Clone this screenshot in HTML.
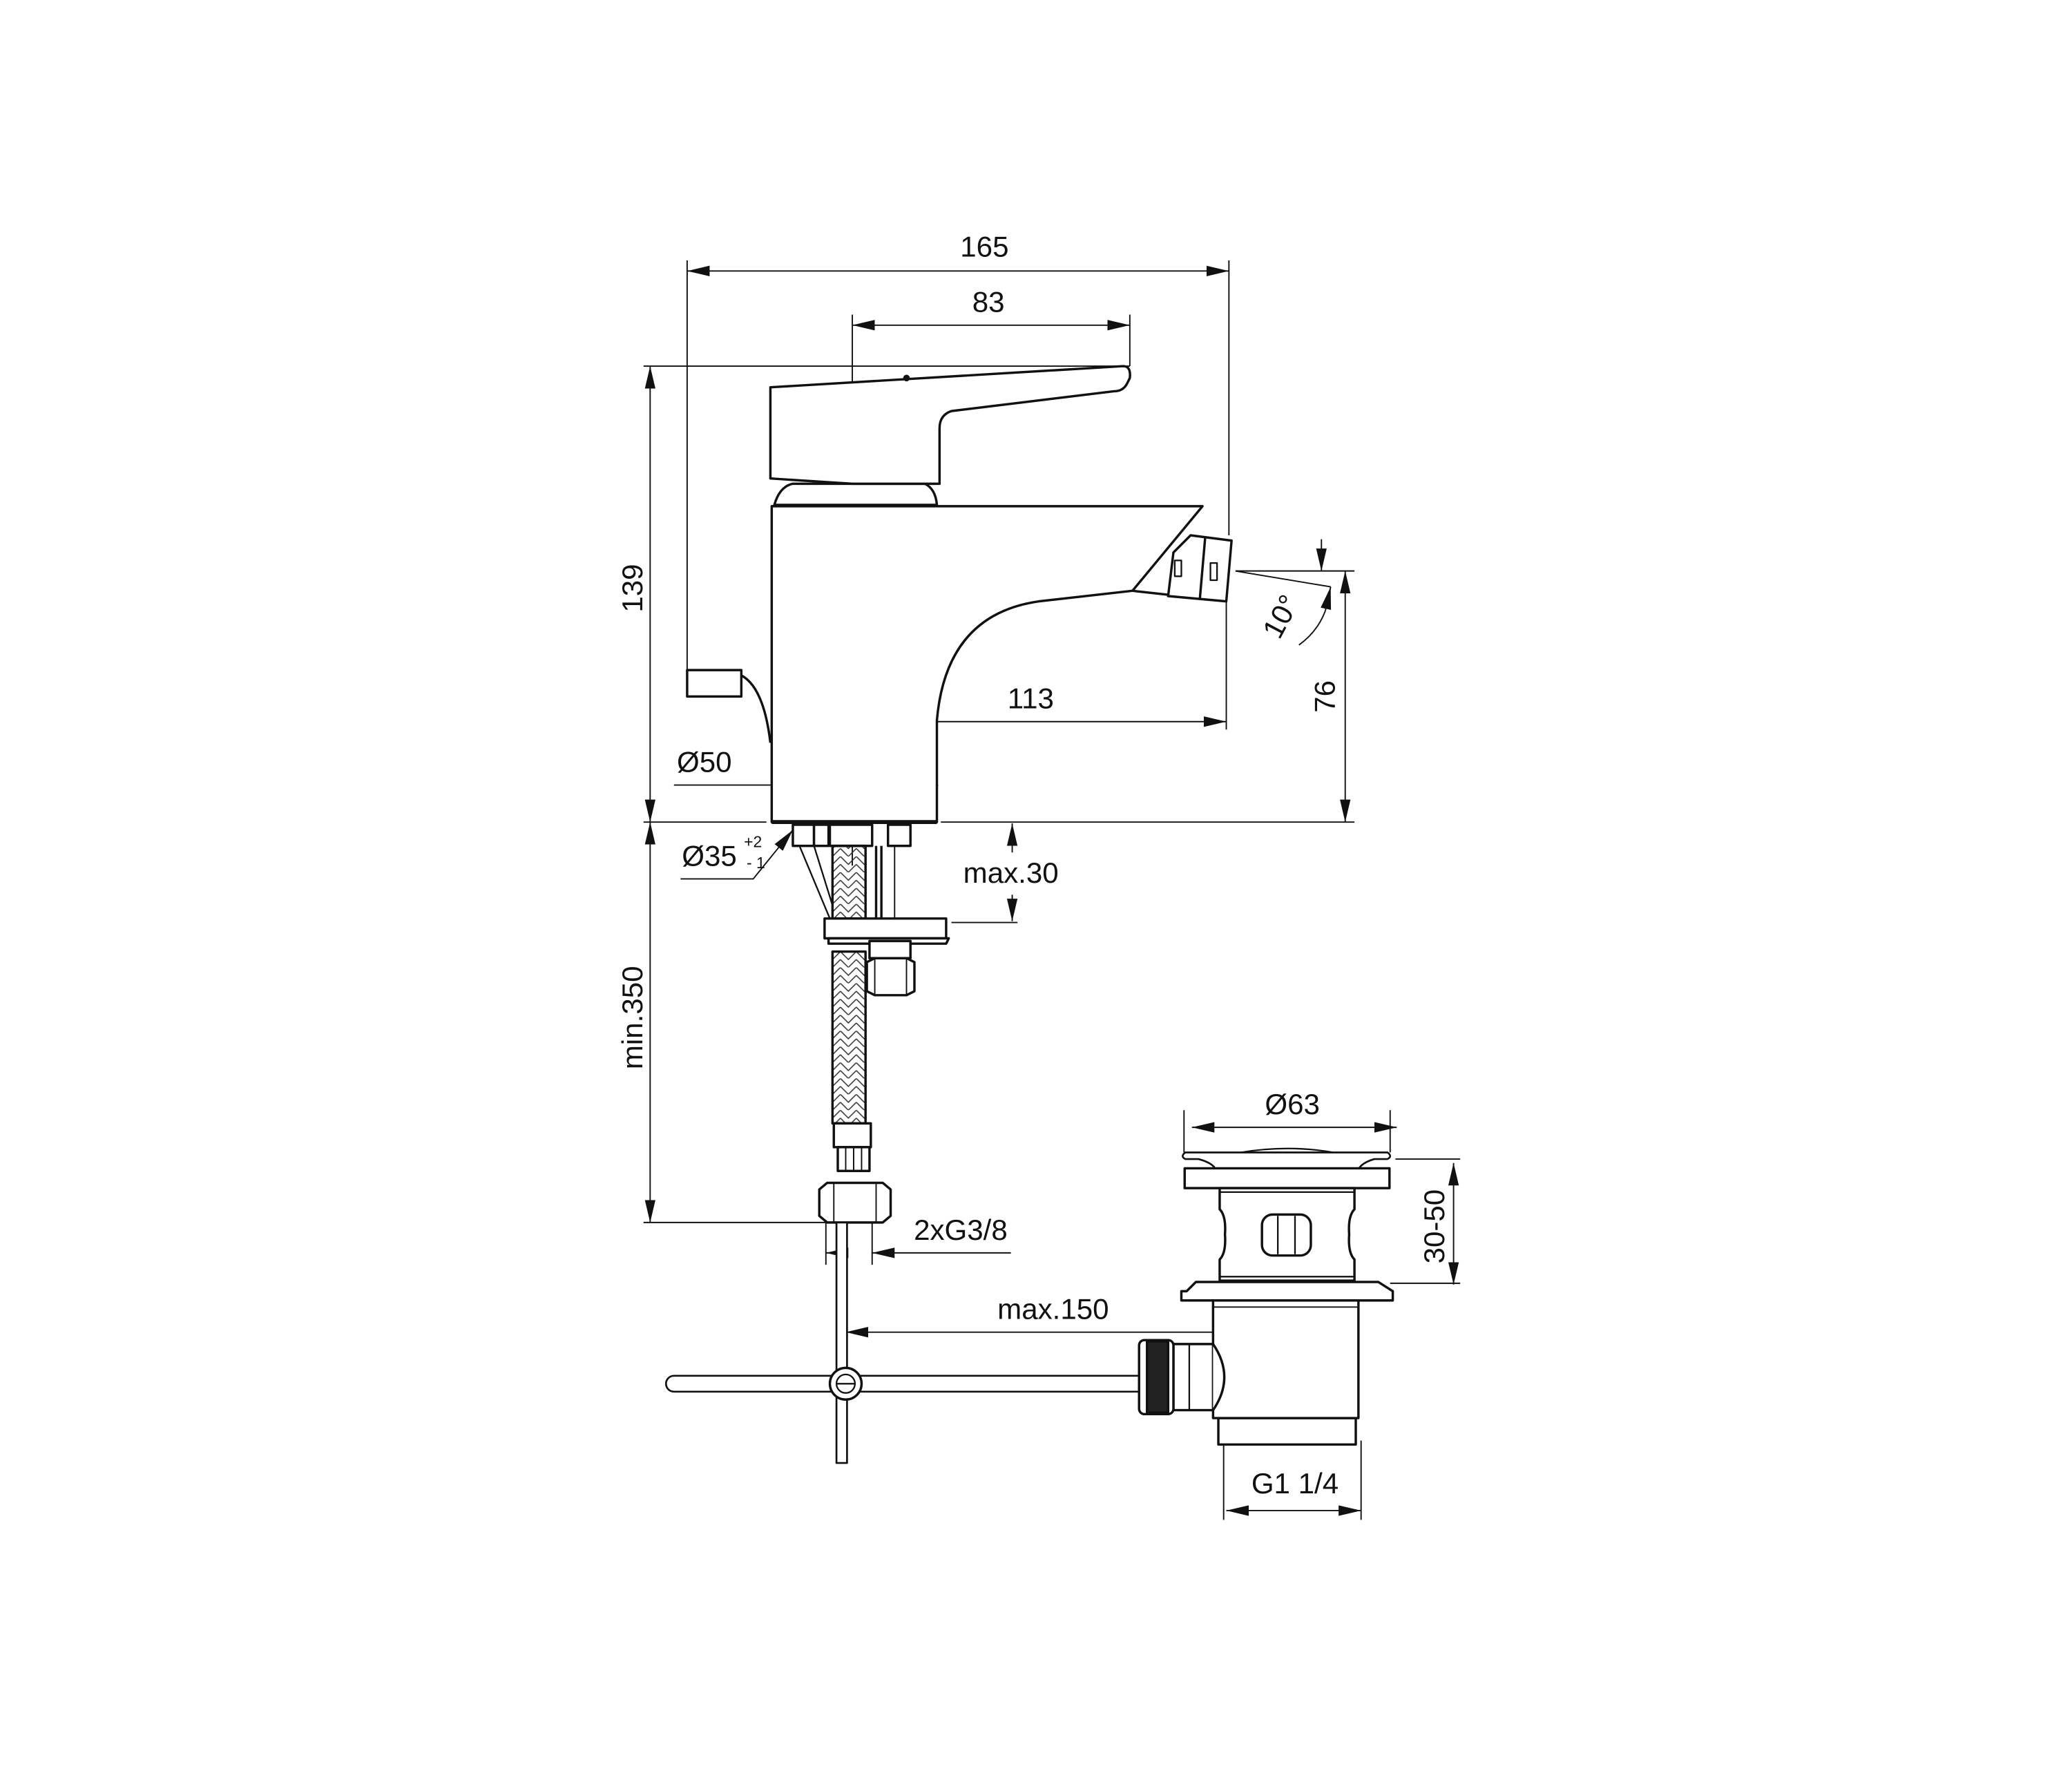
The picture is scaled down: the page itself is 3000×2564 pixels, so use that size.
<!DOCTYPE html>
<html><head><meta charset="utf-8"><style>
html,body{margin:0;padding:0;background:#fff}
svg{display:block}
text{font-family:"Liberation Sans",sans-serif;font-size:22px;fill:#111}
</style></head><body>
<svg width="3000" height="2564" viewBox="0 0 1568 1340" xmlns="http://www.w3.org/2000/svg">
<defs>
<marker id="a" markerWidth="18" markerHeight="9" refX="17" refY="4.5" orient="auto-start-reverse" markerUnits="userSpaceOnUse">
<path d="M0,0.5 L17,4.5 L0,8.5 Z" fill="#111"/></marker>
<pattern id="braid" width="12" height="12" patternUnits="userSpaceOnUse">
<path d="M0,0 L6,6 L12,0 M0,6 L6,12 L12,6" stroke="#333" stroke-width="0.8" fill="none"/></pattern>
</defs>
<g fill="none" stroke="#111" stroke-width="1">
<line x1="520" y1="205" x2="930" y2="205" marker-start="url(#a)" marker-end="url(#a)"/>
<line x1="520" y1="197" x2="520" y2="512"/>
<line x1="930" y1="197" x2="930" y2="405"/>
<line x1="645" y1="246" x2="855" y2="246" marker-start="url(#a)" marker-end="url(#a)"/>
<line x1="645" y1="238" x2="645" y2="290"/>
<line x1="855" y1="238" x2="855" y2="277"/>
<line x1="487" y1="277" x2="855" y2="277"/>
<line x1="492" y1="277" x2="492" y2="622" marker-start="url(#a)" marker-end="url(#a)"/>
<line x1="492" y1="622" x2="492" y2="925" marker-start="url(#a)" marker-end="url(#a)"/>
<line x1="487" y1="622" x2="580" y2="622"/>
<line x1="712" y1="622" x2="1025" y2="622"/>
<line x1="487" y1="925" x2="625" y2="925"/>
<line x1="1018" y1="432" x2="1018" y2="622" marker-start="url(#a)" marker-end="url(#a)"/>
<line x1="935" y1="432" x2="1025" y2="432"/>
<line x1="935" y1="432" x2="1007" y2="444"/>
<line x1="1000" y1="408" x2="1000" y2="432" marker-end="url(#a)"/>
<path d="M1003,462 Q997,478 983,488"/>
<line x1="1007" y1="444" x2="1003" y2="462" marker-start="url(#a)"/>
<line x1="645" y1="546" x2="928" y2="546" marker-start="url(#a)" marker-end="url(#a)"/>
<line x1="928" y1="430" x2="928" y2="552"/>
<line x1="645" y1="540" x2="645" y2="655"/>
<line x1="510" y1="594" x2="583" y2="594"/>
<line x1="583" y1="594" x2="710" y2="594" marker-start="url(#a)" marker-end="url(#a)"/>
<polyline points="515,665 570,665 600,628" marker-end="url(#a)"/>
<line x1="766" y1="645" x2="766" y2="623" marker-end="url(#a)"/>
<line x1="766" y1="677" x2="766" y2="697" marker-end="url(#a)"/>
<line x1="720" y1="698" x2="770" y2="698"/>
<line x1="625" y1="925" x2="625" y2="957"/>
<line x1="660" y1="925" x2="660" y2="957"/>
<line x1="625" y1="948" x2="637" y2="948" marker-start="url(#a)"/>
<line x1="660" y1="948" x2="765" y2="948" marker-start="url(#a)"/>
<line x1="902" y1="853" x2="1057" y2="853" marker-start="url(#a)" marker-end="url(#a)"/>
<line x1="896" y1="840" x2="896" y2="872"/>
<line x1="1052" y1="840" x2="1052" y2="872"/>
<line x1="1100" y1="880" x2="1100" y2="972" marker-start="url(#a)" marker-end="url(#a)"/>
<line x1="1056" y1="877" x2="1105" y2="877"/>
<line x1="1052" y1="971" x2="1105" y2="971"/>
<line x1="640" y1="1008" x2="980" y2="1008" marker-start="url(#a)" marker-end="url(#a)"/>
<line x1="980" y1="995" x2="980" y2="1018"/>
<line x1="928" y1="1143" x2="1030" y2="1143" marker-start="url(#a)" marker-end="url(#a)"/>
<line x1="926" y1="1090" x2="926" y2="1150"/>
<line x1="1030" y1="1090" x2="1030" y2="1150"/>
</g>

<g fill="#fff" stroke="#111" stroke-width="1.8" stroke-linejoin="round">
<path d="M586,382 Q590,368 600,366 L700,366 Q708,370 709,382 Z"/>
<path d="M583,293 L850,277 Q856,277 855,286 L853,290 Q850,296 843,296 L720,311 Q711,314 711,324 L711,366 L645,366 L583,362 Z"/>
<circle cx="686" cy="286" r="1.6" fill="#111"/>
<path d="M584,383 L910,383 L857,447 L786,455 Q716,465 709,545 L709,622 L584,622 Z"/>
<line x1="857" y1="447" x2="884" y2="450"/>
<path d="M884,451 L888,418 L901,405 L932,409 L928,455 Z"/>
<line x1="912" y1="407" x2="908" y2="453"/>
<rect x="889" y="424" width="5" height="12" stroke-width="1.2"/>
<rect x="916" y="426" width="5" height="13" stroke-width="1.2"/>
<rect x="520" y="507" width="41" height="20"/>
<path d="M561,511 Q578,520 583,562" fill="none"/>
<line x1="584" y1="622" x2="709" y2="622" stroke-width="3"/>
<rect x="600" y="624" width="16" height="16"/>
<rect x="616" y="624" width="11" height="16"/>
<rect x="628" y="624" width="32" height="16"/>
<rect x="672" y="624" width="17" height="16"/>
<line x1="663" y1="640" x2="663" y2="695"/>
<line x1="667" y1="640" x2="667" y2="695"/>
<line x1="677" y1="640" x2="677" y2="695" stroke-width="1"/>
<line x1="605" y1="640" x2="628" y2="695" stroke-width="1.2"/>
<line x1="616" y1="640" x2="630" y2="685" stroke-width="1.2"/>
<rect x="630" y="640" width="25" height="55" fill="url(#braid)"/>
<rect x="624" y="695" width="92" height="15"/>
<path d="M627,710 L718,710 L716,714 L627,714 Z"/>
<rect x="658" y="712" width="31" height="13"/>
<path d="M656,728 L662,725 L686,725 L692,728 L692,750 L686,753 L662,753 L656,750 Z"/>
<line x1="662" y1="725" x2="662" y2="753" stroke-width="1"/>
<line x1="686" y1="725" x2="686" y2="753" stroke-width="1"/>
<rect x="630" y="720" width="25" height="130" fill="url(#braid)"/>
<rect x="631" y="850" width="28" height="18"/>
<rect x="634" y="868" width="24" height="18"/>
<line x1="640" y1="868" x2="640" y2="886" stroke-width="1"/>
<line x1="646" y1="868" x2="646" y2="886" stroke-width="1"/>
<line x1="652" y1="868" x2="652" y2="886" stroke-width="1"/>
<path d="M620,900 L626,895 L668,895 L674,900 L674,920 L668,925 L626,925 L620,920 Z"/>
<line x1="631" y1="895" x2="631" y2="925" stroke-width="1"/>
<line x1="663" y1="895" x2="663" y2="925" stroke-width="1"/>
<rect x="633" y="925" width="8" height="182" stroke-width="1.4"/>
<path d="M510,1041 L862,1041 L862,1053 L510,1053 A6,6 0 0 1 510,1041 Z" stroke-width="1.4"/>
<circle cx="640" cy="1047" r="12"/>
<circle cx="640" cy="1047" r="7" stroke-width="1.2"/>
<line x1="633" y1="1047" x2="647" y2="1047" stroke-width="1.2"/>
<path d="M939,872 Q975,866 1009,872 Z" stroke-width="1.2"/>
<path d="M897,872 L1050,872 Q1054,875 1050,877 L1040,877 Q1030,880 1028,885 L920,885 Q918,880 907,877 L897,877 Q893,875 897,872 Z" stroke-width="1.4"/>
<rect x="896.5" y="884" width="155" height="15"/>
<path d="M923,899 L1025,899 L1025,915 Q1020,920 1021,934 Q1020,948 1025,953 L1025,969 L923,969 L923,953 Q928,948 927,934 Q928,920 923,915 Z"/>
<line x1="923" y1="902" x2="1025" y2="902" stroke-width="1.2"/>
<line x1="923" y1="966" x2="1025" y2="966" stroke-width="1.2"/>
<rect x="955" y="919" width="37" height="31" rx="8"/>
<line x1="967" y1="920" x2="967" y2="949" stroke-width="1.2"/>
<line x1="980" y1="920" x2="980" y2="949" stroke-width="1.2"/>
<path d="M898,977 L905,970 L1043,970 L1054,977 L1054,984 L894,984 L894,977 Z"/>
<rect x="922" y="1073" width="104" height="20"/>
<rect x="918" y="984" width="110" height="89"/>
<line x1="918" y1="989" x2="1028" y2="989" stroke-width="1"/>
<rect x="888" y="1017" width="30" height="50"/>
<path d="M918,1017 Q935,1042 918,1067" />
<line x1="900" y1="1017" x2="900" y2="1067" stroke-width="1.2"/>
<rect x="862" y="1014" width="26" height="56" rx="4"/>
<rect x="868" y="1015" width="16" height="54" fill="#222"/>
</g>

<g>
<text x="745" y="194" text-anchor="middle">165</text>
<text x="748" y="236" text-anchor="middle">83</text>
<text x="780" y="536" text-anchor="middle">113</text>
<text x="533" y="584" text-anchor="middle">Ø50</text>
<text x="516" y="655">Ø35</text>
<text x="563" y="641" style="font-size:12px">+2</text>
<text x="565" y="657" style="font-size:12px">- 1</text>
<text x="765" y="668" text-anchor="middle">max.30</text>
<text x="727" y="938" text-anchor="middle">2xG3/8</text>
<text x="978" y="843" text-anchor="middle">Ø63</text>
<text x="797" y="998" text-anchor="middle">max.150</text>
<text x="980" y="1130" text-anchor="middle">G1 1/4</text>
<text transform="translate(486,445) rotate(-90)" text-anchor="middle">139</text>
<text transform="translate(486,770) rotate(-90)" text-anchor="middle">min.350</text>
<text transform="translate(1010,527) rotate(-90)" text-anchor="middle">76</text>
<text transform="translate(1093,928) rotate(-90)" text-anchor="middle">30-50</text>
<text transform="translate(976,470) rotate(-62)" text-anchor="middle">10°</text>
</g>
</svg>
</body></html>
